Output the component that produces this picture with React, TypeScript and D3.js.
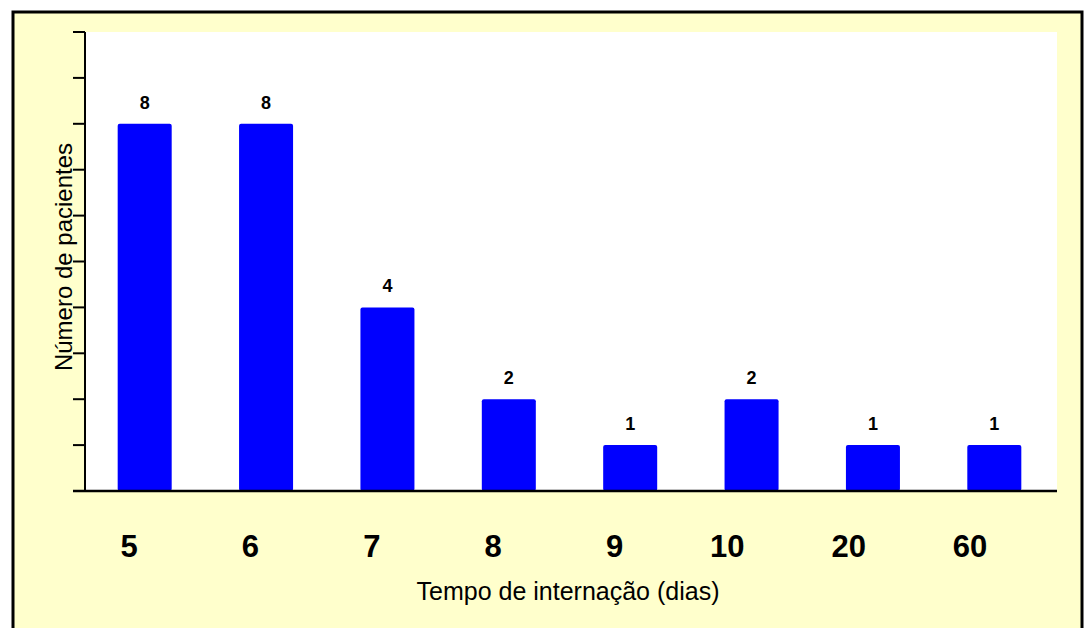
import React from "react";
import * as d3 from "d3";

const categories = ["5", "6", "7", "8", "9", "10", "20", "60"];
const patients = [8, 8, 4, 2, 1, 2, 1, 1];
const yTicks = [0, 1, 2, 3, 4, 5, 6, 7, 8, 9, 10];
const xTitle = "Tempo de internação (dias)";
const yTitle = "Número de pacientes";

const W = 1087;
const H = 628;
const plotLeft = 86;
const plotRight = 1057;
const plotTop = 32;
const plotBottom = 491;
const FONT = "Arial, 'Liberation Sans', Helvetica, sans-serif";

export default function App() {
  const x = d3
    .scaleBand<string>()
    .domain(categories)
    .range([84, 1055])
    .paddingInner(0.555)
    .paddingOuter(0.2775);
  const y = d3.scaleLinear().domain([0, 10]).range([plotBottom, 32]);

  return (
    <svg
      width={W}
      height={H}
      style={{ position: "absolute", left: 0, top: 0, display: "block" }}
      fontFamily={FONT}
    >
      <rect x={0} y={0} width={W} height={H} fill="#ffffff" />
      <rect x={13} y={12} width={1069} height={700} fill="#FFFFCC" stroke="#000" strokeWidth={3} />
      <rect
        x={plotLeft}
        y={plotTop}
        width={plotRight - plotLeft}
        height={plotBottom - plotTop}
        fill="#ffffff"
      />
      {categories.map((c, i) => (
        <rect
          key={c}
          x={x(c)}
          y={y(patients[i])}
          width={x.bandwidth()}
          height={plotBottom - y(patients[i])}
          fill="#0000FF"
          rx={2}
          ry={2}
        />
      ))}
      {categories.map((c, i) => (
        <text
          key={"v" + c}
          x={(x(c) as number) + x.bandwidth() / 2}
          y={y(patients[i]) - 15}
          textAnchor="middle"
          fontSize={18}
          fontWeight="bold"
          fill="#000"
        >
          {patients[i]}
        </text>
      ))}
      {/* y axis */}
      <line x1={85} x2={85} y1={y(10)} y2={plotBottom} stroke="#000" strokeWidth={2} />
      {yTicks.map((t) => (
        <line key={"t" + t} x1={73} x2={85} y1={y(t)} y2={y(t)} stroke="#000" strokeWidth={2} />
      ))}
      {/* x axis */}
      <line x1={73} x2={plotRight} y1={plotBottom} y2={plotBottom} stroke="#000" strokeWidth={2.5} />
      {categories.map((c) => (
        <text
          key={"x" + c}
          x={(x(c) as number) + x.bandwidth() / 2 - 7}
          y={557}
          textAnchor="end"
          fontSize={31}
          fontWeight="bold"
          fill="#000"
        >
          {c}
        </text>
      ))}
      <text x={568} y={600} textAnchor="middle" fontSize={25} fill="#000">
        {xTitle}
      </text>
      <text
        transform={`translate(72,257) rotate(-90)`}
        textAnchor="middle"
        fontSize={24}
        fill="#000"
      >
        {yTitle}
      </text>
    </svg>
  );
}
